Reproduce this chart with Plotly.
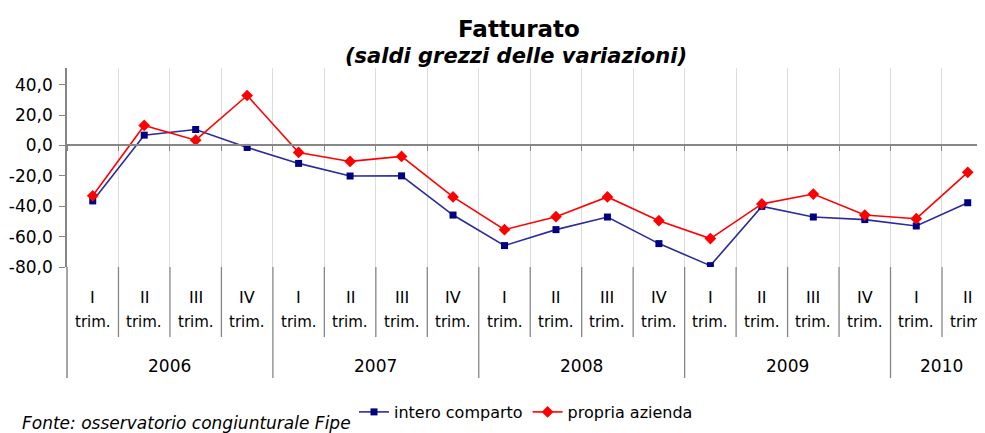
import plotly.graph_objects as go

# ---- data ----
quarters = ["I", "II", "III", "IV", "I", "II", "III", "IV", "I", "II", "III", "IV",
            "I", "II", "III", "IV", "I", "II"]
quarter_suffix = "trim."
years = ["2006", "2007", "2008", "2009", "2010"]
year_counts = [4, 4, 4, 4, 2]

intero_comparto = [-36.5, 6.8, 10.5, -1.3, -11.8, -20.1, -20.0, -45.8, -65.9, -55.4,
                   -47.1, -64.6, -79.1, -40.1, -47.1, -48.8, -53.0, -37.7]
propria_azienda = [-33.1, 13.2, 3.5, 32.9, -4.6, -10.5, -7.2, -33.9, -55.4, -46.9,
                   -33.9, -49.5, -61.3, -38.5, -32.0, -45.8, -48.2, -17.7]

y_ticks = [40, 20, 0, -20, -40, -60, -80]
y_ticktext = ["40,0", "20,0", "0,0", "-20,0", "-40,0", "-60,0", "-80,0"]

title = "Fatturato"
subtitle = "(saldi grezzi delle variazioni)"
source = "Fonte: osservatorio congiunturale Fipe"

FONT = "DejaVu Sans"
GRAY = "#868686"

# page offset (browser body margin)
OFF = 8
W, H = 985 + OFF, 433
PLOT_LEFT = 67 - OFF
PLOT_TOP = 68 - OFF
PLOT_BOTTOM = 267 - OFF
CAT_W = 51.47

n = len(quarters)
xs = list(range(n))

Y_MIN, Y_MAX = -80, 51

fig = go.Figure()
fig.add_trace(go.Scatter(
    x=xs, y=intero_comparto, name="intero comparto", mode="lines+markers",
    line=dict(color="#2b2b9a", width=1.6),
    marker=dict(symbol="square", size=7, color="#000080"),
))
fig.add_trace(go.Scatter(
    x=xs, y=propria_azienda, name="propria azienda", mode="lines+markers",
    line=dict(color="#ff0000", width=1.6),
    marker=dict(symbol="diamond", size=9, color="#ff0000"),
))

boundaries = [i - 0.5 for i in range(n + 1)]
zero_pos = (0 - Y_MIN) / (Y_MAX - Y_MIN)
plot_w = W - PLOT_LEFT
plot_h = PLOT_BOTTOM - PLOT_TOP


def py(screen_pix):
    """screen pixel row -> paper y"""
    return (PLOT_BOTTOM - (screen_pix - OFF)) / plot_h


def px(screen_pix):
    """screen pixel column -> paper x"""
    return ((screen_pix - OFF) - PLOT_LEFT) / plot_w


fig.update_layout(
    width=W, height=H,
    margin=dict(l=PLOT_LEFT, r=0, t=PLOT_TOP, b=H - PLOT_BOTTOM, autoexpand=False),
    paper_bgcolor="white", plot_bgcolor="white",
    font=dict(family=FONT, size=16, color="black"),
    showlegend=True,
    legend=dict(orientation="h", x=px(526), xanchor="center", y=py(412), yanchor="middle",
                font=dict(family=FONT, size=16, color="black"),
                bgcolor="rgba(0,0,0,0)", itemwidth=30, tracegroupgap=0),
    xaxis=dict(
        range=[-0.5, -0.5 + plot_w / CAT_W], automargin=False,
        tickmode="array", tickvals=boundaries, showticklabels=False,
        showgrid=True, gridcolor="#dcdcdc", gridwidth=1,
        showline=True, linecolor=GRAY, linewidth=1.5,
        ticks="outside", ticklen=5, tickcolor=GRAY, tickwidth=1.3,
        anchor="free", position=zero_pos, zeroline=False,
    ),
    yaxis=dict(
        range=[Y_MIN, Y_MAX], automargin=False,
        tickmode="array", tickvals=y_ticks, ticktext=y_ticktext,
        showgrid=False, zeroline=False,
        showline=True, linecolor=GRAY, linewidth=1.5,
        ticks="outside", ticklen=6, tickcolor=GRAY, tickwidth=1.3,
        ticklabelstandoff=3,
        tickfont=dict(family=FONT, size=17, color="black"),
    ),
)

# y-axis line continuation below plot
fig.add_shape(type="line", xref="paper", yref="paper", x0=0, x1=0,
              y0=0, y1=py(378), line=dict(color=GRAY, width=1.5))

# separators between categories (quarter) and years
year_bounds = []
acc = 0
for c in year_counts:
    year_bounds.append(acc - 0.5)
    acc += c
year_bounds.append(acc - 0.5)

for b in boundaries[1:]:
    bottom = py(378) if b in year_bounds else py(337)
    fig.add_shape(type="line", xref="x", yref="paper", x0=b, x1=b,
                  y0=0, y1=bottom, line=dict(color=GRAY, width=1.3))

# quarter labels
for i, q in enumerate(quarters):
    fig.add_annotation(x=i, xref="x", y=py(297), yref="paper", text=q,
                       xanchor="center", yanchor="middle",
                       showarrow=False, font=dict(family=FONT, size=16))
    fig.add_annotation(x=i, xref="x", y=py(322), yref="paper", text=quarter_suffix,
                       xanchor="center", yanchor="middle",
                       showarrow=False, font=dict(family=FONT, size=15))

# year labels
acc = 0
for yr, c in zip(years, year_counts):
    center = acc + (c - 1) / 2
    fig.add_annotation(x=center, xref="x", y=py(366), yref="paper", text=yr,
                       xanchor="center", yanchor="middle",
                       showarrow=False, font=dict(family=FONT, size=17))
    acc += c

# titles
fig.add_annotation(x=px(519), xref="paper", y=py(29), yref="paper",
                   xanchor="center", yanchor="middle",
                   text="<b>" + title + "</b>",
                   showarrow=False, font=dict(family=FONT, size=23))
fig.add_annotation(x=px(516), xref="paper", y=py(56), yref="paper",
                   xanchor="center", yanchor="middle",
                   text="<b><i>" + subtitle + "</i></b>",
                   showarrow=False, font=dict(family=FONT, size=21))

# source note
fig.add_annotation(x=px(20), xref="paper", xanchor="left", y=py(423), yref="paper",
                   yanchor="middle",
                   text="<i>" + source + "</i>", showarrow=False,
                   font=dict(family=FONT, size=17))

fig.write_html("out.html")
